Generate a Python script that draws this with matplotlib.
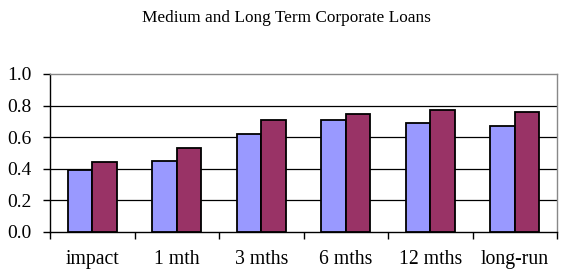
import matplotlib
matplotlib.use("Agg")
import matplotlib.pyplot as plt
import numpy as np

# Dados
categorias = ["impact", "1 mth", "3 mths", "6 mths", "12 mths", "long-run"]
serie_a = [0.39, 0.45, 0.62, 0.71, 0.69, 0.67]
serie_b = [0.44, 0.53, 0.71, 0.75, 0.77, 0.76]
yticks = [0.0, 0.2, 0.4, 0.6, 0.8, 1.0]

plt.rcParams["font.family"] = ["Liberation Serif", "DejaVu Serif"]

fig = plt.figure(figsize=(5.7, 2.77), dpi=100)
ax = fig.add_axes([50 / 570, 1 - 232 / 277, 507 / 570, 158 / 277])

x = np.arange(len(categorias))
w = 0.29
ax.bar(x - w / 2, serie_a, w, color="#9999FF", edgecolor="black", linewidth=1.3, zorder=3)
ax.bar(x + w / 2, serie_b, w, color="#993366", edgecolor="black", linewidth=1.3, zorder=3)

ax.set_xlim(-0.5, len(categorias) - 0.5)
ax.set_ylim(0, 1.0)
ax.set_yticks(yticks)
ax.set_yticklabels([f"{v:.1f}" for v in yticks], fontsize=14)
for v in yticks[1:-1]:
    ax.axhline(v, color="black", linewidth=0.9, zorder=1)

# ticks do eixo x nas fronteiras das categorias, rótulos no centro
ax.set_xticks(np.arange(-0.5, len(categorias)), minor=False)
ax.set_xticklabels([])
ax.set_xticks(x, minor=True)
ax.set_xticklabels(categorias, minor=True, fontsize=14.2)
ax.tick_params(axis="x", which="minor", length=0, pad=13)
ax.tick_params(axis="x", which="major", length=5, width=1, direction="out")
ax.tick_params(axis="y", length=5, width=1, direction="out", pad=8)

for lado in ["top", "right"]:
    ax.spines[lado].set_color("#888888")
    ax.spines[lado].set_linewidth(1)
for lado in ["left", "bottom"]:
    ax.spines[lado].set_color("black")
    ax.spines[lado].set_linewidth(1)

fig.text(0.503, 1 - 18 / 277, "Medium and Long Term Corporate Loans",
         ha="center", va="center", fontsize=12.4)

fig.savefig("out.png", dpi=100)
